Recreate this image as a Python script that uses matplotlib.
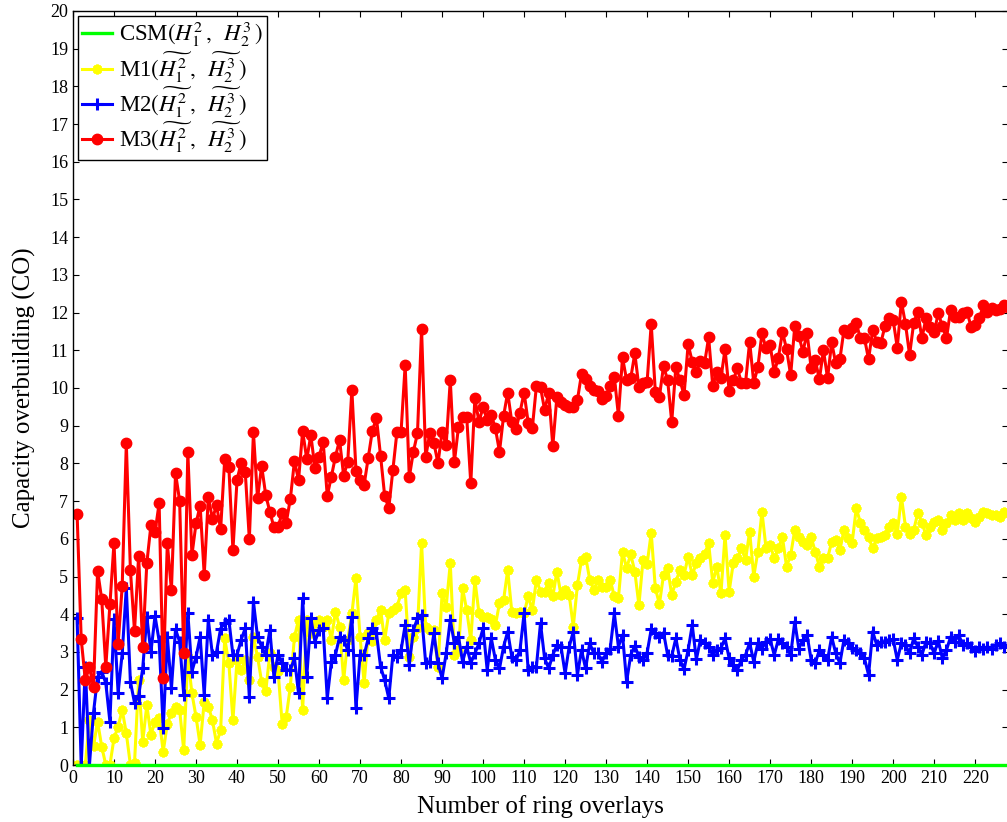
import numpy as np
import matplotlib
matplotlib.use("agg")
import matplotlib.pyplot as plt

# overlays 1..228
n_overlays = np.arange(1, 229)

csm = np.zeros(228)

m1 = [0, 0, 0, 1.2, 0.5, 1.15, 0.49, 0.0, 0.0, 0.71,
      1.02, 1.46, 0.84, 0.0, 0.05, 2.25, 0.62, 1.59, 0.8, 1.15,
      1.24, 0.35, 1.1, 1.37, 1.53, 1.46, 0.4, 2.87, 1.9, 1.28,
      0.53, 1.68, 1.55, 1.19, 0.57, 0.93, 3.36, 2.7, 1.19, 2.79,
      2.52, 2.79, 2.25, 3.4, 2.87, 2.21, 1.95, 2.96, 2.6, 2.5,
      1.1, 1.28, 2.08, 3.4, 3.85, 1.46, 3.85, 3.49, 3.76, 3.85,
      3.67, 3.85, 3.32, 4.07, 3.67, 2.25, 3.32, 4.02, 4.95, 3.4,
      2.17, 3.49, 3.3, 3.85, 4.11, 3.32, 4.02, 4.11, 4.2, 4.55,
      4.64, 2.87, 3.4, 3.63, 5.88, 3.67, 3.58, 3.58, 2.59, 4.55,
      4.2, 5.35, 2.92, 3.05, 4.69, 4.11, 3.32, 4.91, 4.02, 3.93,
      3.93, 3.86, 3.71, 4.29, 4.38, 5.17, 4.07, 4.02, 4.07, 4.02,
      4.48, 4.1, 4.91, 4.6, 4.6, 4.82, 4.47, 5.13, 4.51, 4.64,
      4.51, 3.67, 4.77, 5.44, 5.53, 4.92, 4.64, 4.92, 4.73, 4.73,
      4.91, 4.47, 4.42, 5.66, 5.22, 5.59, 5.13, 4.24, 5.44, 5.33,
      6.16, 4.69, 4.27, 5.04, 5.22, 4.51, 4.86, 5.17, 5.04, 5.53,
      5.04, 5.35, 5.5, 5.6, 5.88, 4.84, 5.26, 4.55, 6.1, 4.6,
      5.35, 5.48, 5.75, 5.44, 6.19, 5.0, 5.66, 6.72, 5.75, 5.84,
      5.48, 5.75, 6.04, 5.26, 5.57, 6.23, 6.04, 5.92, 5.84, 6.04,
      5.66, 5.26, 5.48, 5.48, 5.92, 5.97, 5.7, 6.23, 6.01, 5.9,
      6.81, 6.43, 6.23, 6.04, 5.75, 6.01, 6.04, 6.1, 6.32, 6.41,
      6.14, 7.12, 6.32, 6.14, 6.23, 6.68, 6.43, 6.1, 6.32, 6.45,
      6.5, 6.23, 6.43, 6.63, 6.5, 6.68, 6.5, 6.68, 6.54, 6.45,
      6.59, 6.72, 6.68, 6.63, 6.63, 6.59, 6.72, 6.68]

m2 = [3.9, 0, 2.6, 0, 1.39, 2.34, 2.48, 2.17, 1.15, 3.86,
      1.92, 2.96, 4.69, 2.21, 1.65, 1.83, 2.56, 3.93, 3.0, 3.95,
      3.3, 0.97, 3.4, 2.03, 3.6, 3.27, 1.87, 4.04, 2.48, 2.87,
      3.4, 1.86, 3.85, 2.92, 3.0, 3.62, 3.76, 3.85, 2.92, 2.92,
      3.32, 3.63, 1.81, 4.33, 3.4, 3.14, 2.92, 3.58, 2.34, 2.92,
      2.7, 2.52, 2.52, 2.83, 1.9, 4.42, 2.34, 3.89, 3.27, 3.58,
      3.63, 1.77, 2.74, 2.92, 3.4, 3.32, 3.05, 3.93, 1.5, 2.92,
      2.92, 3.36, 3.63, 3.49, 2.61, 2.25, 1.77, 2.92, 2.87, 3.05,
      3.71, 2.65, 3.58, 3.89, 3.98, 2.71, 2.74, 3.49, 2.7, 2.3,
      2.96, 3.85, 3.23, 3.4, 2.74, 3.14, 2.71, 2.96, 3.23, 3.63,
      2.52, 3.36, 2.79, 2.56, 3.14, 3.54, 2.87, 2.79, 3.05, 4.02,
      2.52, 2.61, 2.61, 3.76, 2.83, 2.56, 2.92, 3.18, 3.14, 2.43,
      3.14, 3.54, 2.39, 3.05, 2.56, 3.23, 2.96, 2.96, 2.74, 2.96,
      3.09, 4.02, 3.14, 3.45, 2.21, 2.92, 3.16, 2.87, 2.79, 2.98,
      3.6, 3.49, 3.4, 3.51, 2.92, 2.89, 3.36, 2.79, 2.54, 3.05,
      3.71, 2.8, 3.32, 3.23, 3.14, 2.92, 3.05, 3.1, 3.36, 2.83,
      2.65, 2.52, 2.79, 2.92, 3.24, 2.74, 3.23, 3.09, 3.27, 3.33,
      2.92, 3.33, 3.23, 3.14, 2.92, 3.8, 3.09, 3.32, 3.45, 2.79,
      2.7, 3.05, 2.92, 2.79, 3.4, 2.96, 2.7, 3.32, 3.23, 3.1,
      3.05, 2.96, 2.83, 2.39, 3.54, 3.18, 3.27, 3.27, 3.32, 3.33,
      2.79, 3.23, 3.18, 2.96, 3.36, 3.14, 2.92, 3.27, 3.23, 2.96,
      3.3, 2.83, 3.05, 3.4, 3.27, 3.45, 3.18, 3.23, 3.14, 3.03,
      3.14, 3.09, 3.14, 3.09, 3.18, 3.23, 3.14, 3.18]

m3 = [6.67, 3.34, 2.25, 2.6, 2.08, 5.15, 4.4, 2.6, 4.27, 5.9,
      3.2, 4.75, 8.53, 5.17, 3.55, 5.54, 3.14, 5.35, 6.36, 6.17,
      6.94, 2.32, 5.88, 4.64, 7.74, 7.01, 2.98, 8.3, 5.57, 6.41,
      6.88, 5.04, 7.12, 6.52, 6.9, 6.25, 8.12, 7.91, 5.7, 7.56,
      8.02, 7.78, 5.99, 8.82, 7.07, 7.93, 7.16, 6.72, 6.3, 6.32,
      6.68, 6.43, 7.06, 8.06, 7.56, 8.86, 8.11, 8.75, 7.87, 8.18,
      8.58, 7.14, 7.65, 8.18, 8.62, 7.67, 8.05, 9.95, 7.81, 7.56,
      7.44, 8.15, 8.87, 9.2, 8.2, 7.14, 6.81, 7.82, 8.84, 8.84,
      10.61, 7.63, 8.31, 8.8, 11.56, 8.16, 8.8, 8.55, 8.0, 8.84,
      8.49, 10.21, 8.03, 8.97, 9.24, 9.24, 7.47, 9.73, 9.1, 9.5,
      9.15, 9.28, 8.93, 8.31, 9.26, 9.88, 9.1, 8.9, 9.35, 9.88,
      9.08, 8.93, 10.05, 10.02, 9.42, 9.86, 8.46, 9.77, 9.64, 9.55,
      9.5, 9.5, 9.68, 10.37, 10.23, 10.04, 9.95, 9.93, 9.7, 9.79,
      10.04, 10.3, 9.27, 10.81, 10.21, 10.26, 10.92, 10.02, 10.12, 10.17,
      11.7, 9.9, 9.77, 10.58, 10.21, 9.1, 10.55, 10.21, 9.81, 11.16,
      10.7, 10.43, 10.72, 10.65, 11.34, 10.05, 10.43, 10.26, 11.03, 9.93,
      10.21, 10.52, 10.14, 10.14, 11.23, 10.14, 10.55, 11.45, 11.05, 11.14,
      10.43, 10.79, 11.49, 11.03, 10.34, 11.64, 11.38, 10.96, 11.47, 10.52,
      10.74, 10.23, 11.0, 10.26, 11.21, 10.65, 10.76, 11.54, 11.47, 11.6,
      11.72, 11.32, 11.32, 10.76, 11.54, 11.23, 11.2, 11.64, 11.85, 11.8,
      11.07, 12.29, 11.7, 10.88, 11.72, 12.02, 11.32, 11.85, 11.63, 11.49,
      11.98, 11.64, 11.32, 12.07, 11.89, 11.89, 11.98, 12.02, 11.63, 11.67,
      11.85, 12.2, 12.02, 12.11, 12.07, 12.09, 12.2, 12.15]

labels = [r"CSM$(H_1^2\,,\;\; H_2^3\,)$",
          r"M1$(\widetilde{H_1^2}\,,\;\;\widetilde{H_2^3}\,)$",
          r"M2$(\widetilde{H_1^2}\,,\;\;\widetilde{H_2^3}\,)$",
          r"M3$(\widetilde{H_1^2}\,,\;\;\widetilde{H_2^3}\,)$"]

plt.rcParams["font.family"] = ["Liberation Serif", "DejaVu Serif"]
plt.rcParams["mathtext.fontset"] = "stix"

fig = plt.figure(figsize=(10.07, 8.22), dpi=100)
ax = fig.add_axes([73 / 1007, 57 / 822, 935 / 1007, 754 / 822])

ax.plot(n_overlays, csm, color="#00ff00", lw=2.4, label=labels[0], clip_on=False, zorder=5)
ax.plot(n_overlays, m1, color="#ffff00", lw=2.2, marker=(8, 2, 0), ms=7, mew=2.0, label=labels[1])
ax.plot(n_overlays, m2, color="#0000ff", lw=2.2, marker="+", ms=8, mew=2.2, label=labels[2])
ax.plot(n_overlays, m3, color="#ff0000", lw=2.2, marker="o", ms=7.5, label=labels[3])

ax.set_xlim(0, 228)
ax.set_ylim(0, 20)
ax.set_xticks(np.arange(0, 221, 10))
ax.set_yticks(np.arange(0, 21, 1))
ax.tick_params(direction="in", top=True, right=True, length=4, labelsize=13, width=0.8)
for s in ax.spines.values():
    s.set_linewidth(1.0)

ax.set_xlabel("Number of ring overlays", fontsize=18, labelpad=6)
ax.set_ylabel("Capacity overbuilding (CO)", fontsize=18, labelpad=10)

leg = ax.legend(loc="upper left", fontsize=16.5, fancybox=False, framealpha=1,
                edgecolor="black", borderaxespad=0.2, handlelength=1.3,
                handletextpad=0.3, labelspacing=0.0, borderpad=0.2)
leg.get_frame().set_linewidth(1.0)

fig.savefig("out.png", dpi=100)
